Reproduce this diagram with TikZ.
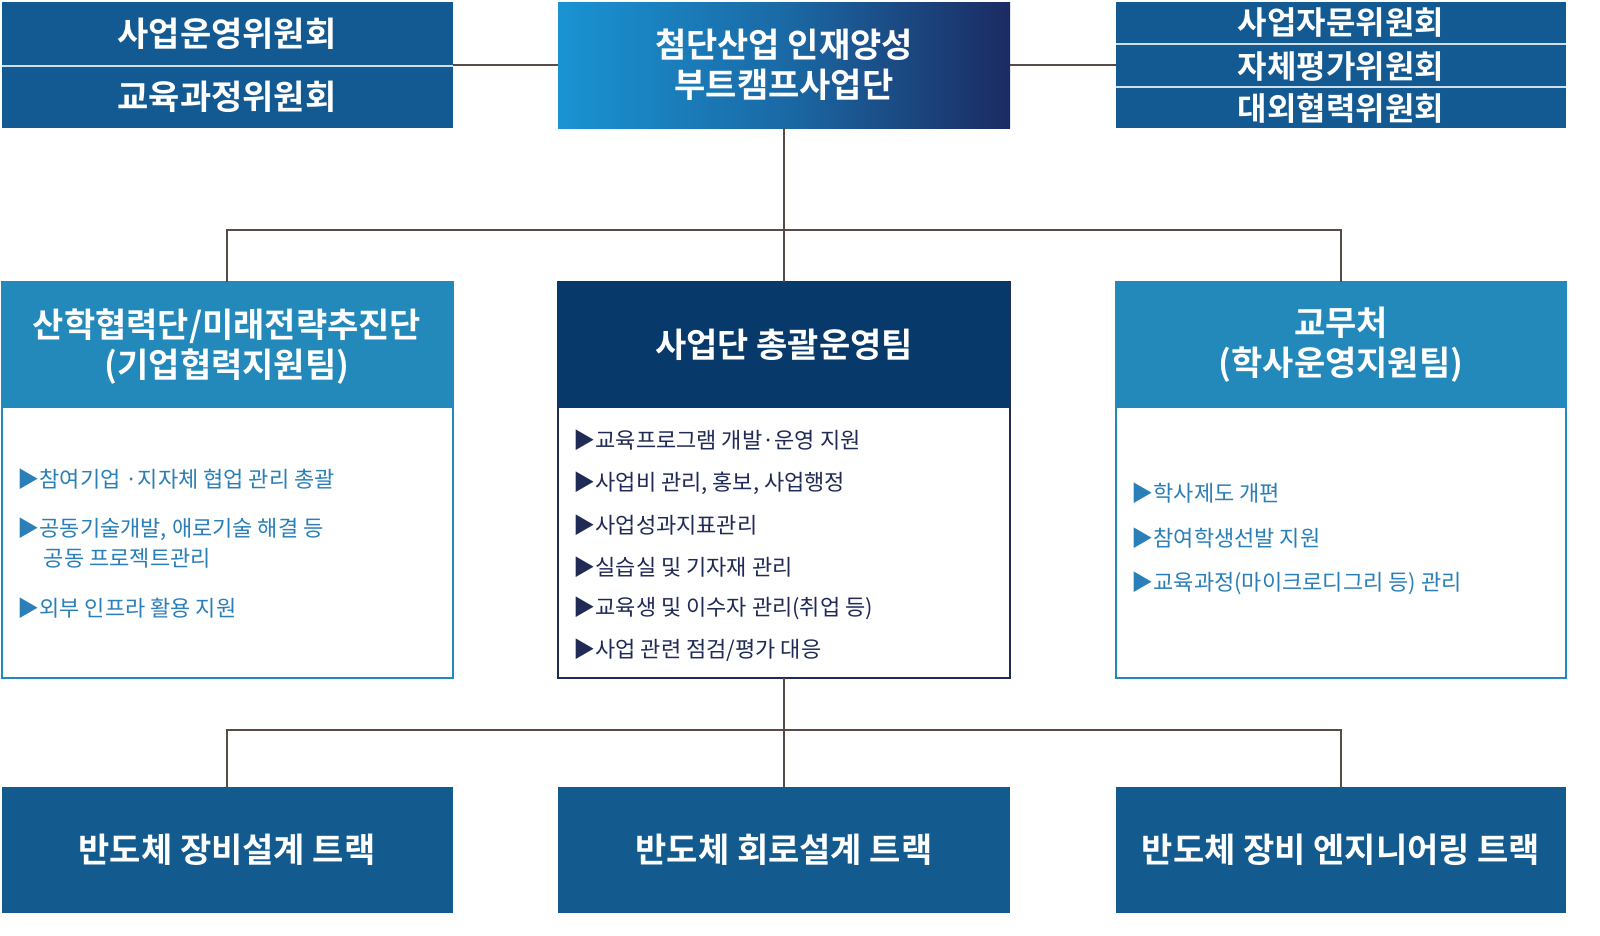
\documentclass[tikz,border=0pt]{standalone}
\usepackage{fontspec}
\setmainfont{Noto Sans CJK KR}
\newfontfamily\krb{Noto Sans CJK KR Bold}
\begin{document}
\begin{tikzpicture}[x=1pt,y=-1pt,
  ttl/.style={text=white,font=\krb\fontsize{34}{44}\selectfont,align=center},
  cmt/.style={text=white,font=\krb\fontsize{32}{38}\selectfont},
  body/.style={anchor=west,font=\fontsize{22}{30}\selectfont,align=left},
  conn/.style={draw=lineC,line width=1.2pt}]
\definecolor{cA}{HTML}{145A92}
\definecolor{cL}{HTML}{2389BB}
\definecolor{cC}{HTML}{073A6B}
\definecolor{cB}{HTML}{135B8F}
\definecolor{gL}{HTML}{1A93D2}
\definecolor{gR}{HTML}{1B2B62}
\definecolor{lineC}{HTML}{5A4A48}
\definecolor{tL}{HTML}{2A7FB8}
\definecolor{tC}{HTML}{1F2A55}
\useasboundingbox (0,0) rectangle (1600,935);
% top left
\fill[cA] (2,2) rectangle (453,128);
\draw[white!80!cA,line width=2pt] (2,65.5) -- (453,65.5);
\node[cmt,font=\krb\fontsize{34}{40}\selectfont] (tl1) at (227,34) {사업운영위원회};
\node[cmt,font=\krb\fontsize{34}{40}\selectfont] (tl2) at (227,97) {교육과정위원회};
\coordinate (tlE) at (453,65);
% top center
\shade[left color=gL,right color=gR,middle color=gL!60!gR] (558,2) rectangle (1010,128);
\node[ttl] (top) at (784,65) {첨단산업 인재양성\\[-4pt]부트캠프사업단};
\coordinate (topW) at (558,65); \coordinate (topE) at (1010,65); \coordinate (topS) at (784,128);
% top right
\fill[cA] (1116,2) rectangle (1566,128);
\draw[white!80!cA,line width=2pt] (1116,44) -- (1566,44) (1116,87) -- (1566,87);
\node[cmt] (tr1) at (1341,23) {사업자문위원회};
\node[cmt] (tr2) at (1341,66) {자체평가위원회};
\node[cmt] (tr3) at (1341,108) {대외협력위원회};
\coordinate (trW) at (1116,65);
\draw[conn] (tlE) -- (topW); \draw[conn] (topE) -- (trW);
% mid boxes
\draw[cL,line width=1.2pt,fill=white] (2,282) rectangle (453,678);
\fill[cL] (2,282) rectangle (453,408);
\node[ttl] (ml) at (227,347) {산학협력단/미래전략추진단\\[-4pt](기업협력지원팀)};
\draw[tC,line width=1.2pt,fill=white] (558,282) rectangle (1010,678);
\fill[cC] (558,282) rectangle (1010,408);
\node[ttl] (mc) at (784,345) {사업단 총괄운영팀};
\draw[cL,line width=1.2pt,fill=white] (1116,282) rectangle (1566,678);
\fill[cL] (1116,282) rectangle (1566,408);
\node[ttl] (mr) at (1341,345) {교무처\\[-4pt](학사운영지원팀)};
\coordinate (mlN) at (227,282); \coordinate (mcN) at (784,282); \coordinate (mrN) at (1341,282);
\coordinate (mcS) at (784,678);
\coordinate (j1) at (784,230);
\draw[conn] (topS) -- (mcN);
\draw[conn] (mlN) |- (j1) -| (mrN);
% bullets
\begin{scope}[every node/.style={body,text=tL}]
\node (l1) at (14,479) {▶참여기업 ·지자체 협업 관리 총괄};
\node (l2) at (14,543) {▶공동기술개발, 애로기술 해결 등\\\hspace*{1.2em}공동 프로젝트관리};
\node (l3) at (14,608) {▶외부 인프라 활용 지원};
\node (r1) at (1128,493) {▶학사제도 개편};
\node (r2) at (1128,538) {▶참여학생선발 지원};
\node (r3) at (1128,583) {▶교육과정(마이크로디그리 등) 관리};
\end{scope}
\begin{scope}[every node/.style={body,text=tC}]
\node (c1) at (570,440) {▶교육프로그램 개발·운영 지원};
\node (c2) at (570,483) {▶사업비 관리, 홍보, 사업행정};
\node (c3) at (570,525) {▶사업성과지표관리};
\node (c4) at (570,567) {▶실습실 및 기자재 관리};
\node (c5) at (570,608) {▶교육생 및 이수자 관리(취업 등)};
\node (c6) at (570,650) {▶사업 관련 점검/평가 대응};
\end{scope}
% bottom
\fill[cB] (2,787) rectangle (453,913);
\fill[cB] (558,787) rectangle (1010,913);
\fill[cB] (1116,787) rectangle (1566,913);
\node[ttl] (b1) at (227,850) {반도체 장비설계 트랙};
\node[ttl] (b2) at (784,850) {반도체 회로설계 트랙};
\node[ttl] (b3) at (1341,850) {반도체 장비 엔지니어링 트랙};
\coordinate (b1N) at (227,787); \coordinate (b2N) at (784,787); \coordinate (b3N) at (1341,787);
\coordinate (j2) at (784,730);
\draw[conn] (mcS) -- (b2N);
\draw[conn] (b1N) |- (j2) -| (b3N);
\end{tikzpicture}
\end{document}
